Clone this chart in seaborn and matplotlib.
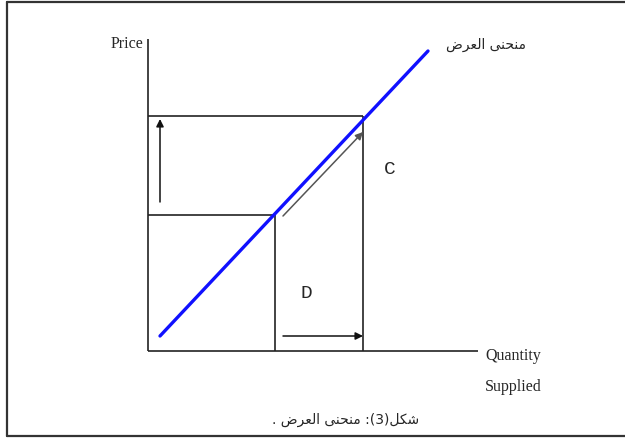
import matplotlib
matplotlib.use("Agg")
import matplotlib.pyplot as plt
import pandas as pd
import seaborn as sns
from matplotlib.lines import Line2D

# ── Diagram values (price / quantity units) ───────────────────────────────────
supply_q = [12, 280]          # supply curve end points
supply_p = [15, 300]
q_levels = [127, 215]         # Q1, Q2
p_levels = [136, 235]         # P1, P2
q_axis_end = 330
p_axis_end = 312

# arrows: (start, end)
price_arrow = [(12, 149), (12, 232)]
move_arrow = [(135, 135), (215, 219)]
qty_arrow = [(135, 15), (215, 15)]

# ── Text ──────────────────────────────────────────────────────────────────────
# Arabic is drawn with presentation forms in visual (right-to-left) order,
# since matplotlib does no shaping or bidi itself.
word_curve = "\uFEF0\uFEE8\uFEA4\uFEE8\uFEE3"       # منحنى
word_supply = "\uFEBD\uFEAE\uFECC\uFEDF\uFE8D"      # العرض
word_fig = "\uFEDE\uFEDC\uFEB7"                     # شكل
curve_label = f"{word_supply} {word_curve}"
caption = f". {word_supply} {word_curve} :(3){word_fig}"

sns.set_theme(style="white")
plt.rcParams["font.family"] = ["Liberation Serif", "DejaVu Sans"]

fig = plt.figure(figsize=(6.25, 4.39), dpi=100)
ax = fig.add_axes([0, 0, 1, 1])

# outer frame (top, left, bottom)
for xs, ys in [([0.011, 1.0], [0.993, 0.993]),
               ([0.011, 0.011], [0.993, 0.005]),
               ([0.011, 1.0], [0.005, 0.005])]:
    fig.add_artist(Line2D(xs, ys, color="#333333", lw=1.6,
                          transform=fig.transFigure))

axis_kw = dict(color="#222222", lw=1.2, solid_capstyle="butt")
ax.plot([0, 0], [0, p_axis_end], **axis_kw)
ax.plot([0, q_axis_end], [0, 0], **axis_kw)

# guide rectangles
for q, p in zip(q_levels, p_levels):
    ax.plot([0, q], [p, p], **axis_kw)
    ax.plot([q, q], [0, p], **axis_kw)

# supply curve
curve = pd.DataFrame({"Quantity": supply_q, "Price": supply_p})
sns.lineplot(data=curve, x="Quantity", y="Price", color="#1010ff",
             lw=2.4, ax=ax, legend=False)
ax.set_xlim(-148, 477)
ax.set_ylim(-87, 352)
ax.axis("off")

arrow_kw = dict(arrowstyle="-|>", mutation_scale=11, lw=1.1,
                shrinkA=0, shrinkB=0)
ax.annotate("", xy=price_arrow[1], xytext=price_arrow[0],
            arrowprops=dict(color="#111111", **arrow_kw))
ax.annotate("", xy=move_arrow[1], xytext=move_arrow[0],
            arrowprops=dict(color="#555555", **arrow_kw))
ax.annotate("", xy=qty_arrow[1], xytext=qty_arrow[0],
            arrowprops=dict(color="#111111", **arrow_kw))

# labels
ax.text(-5, 308, "Price", fontsize=11.5, ha="right", va="center")
ax.text(337, -4, "Quantity", fontsize=11.5, ha="left", va="center")
ax.text(337, -35, "Supplied", fontsize=11.5, ha="left", va="center")
ax.text(236, 183, "C", fontsize=14, ha="left", va="center",
        family="Liberation Mono")
ax.text(152, 59, "D", fontsize=14, ha="left", va="center",
        family="Liberation Mono")
ax.text(338, 307, curve_label, fontsize=10, ha="center", va="center",
        family="DejaVu Sans")
ax.text(198, -68, caption, fontsize=10, ha="center", va="center",
        family="DejaVu Sans")

fig.savefig("out.png", dpi=100)
